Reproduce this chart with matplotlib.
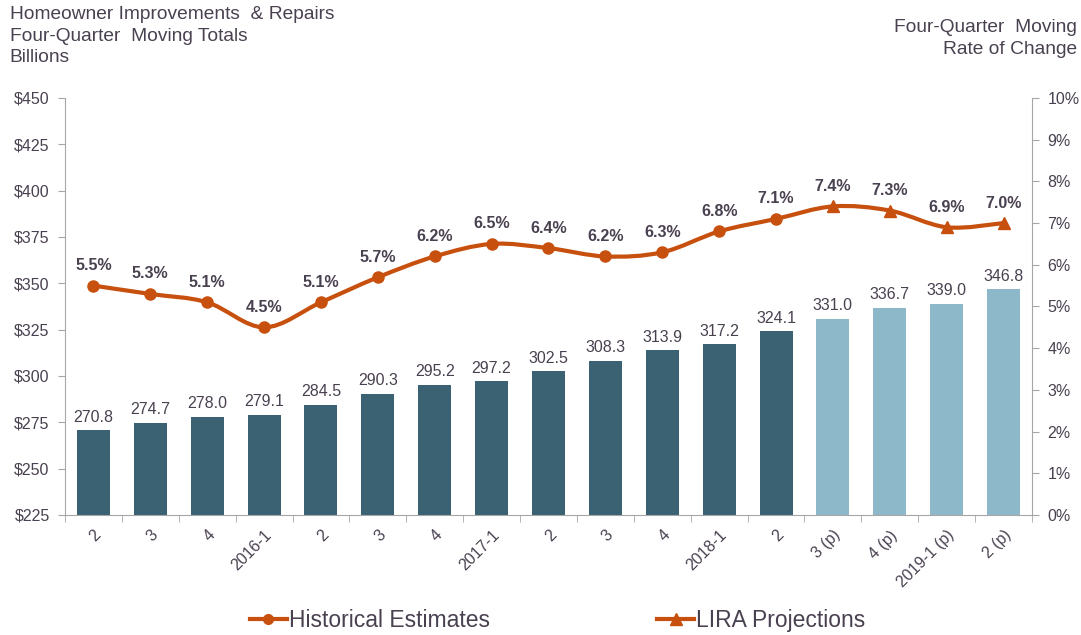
import numpy as np
import matplotlib.pyplot as plt
from matplotlib.path import Path
from matplotlib.patches import PathPatch
from matplotlib.lines import Line2D

plt.rcParams['font.family'] = ['Liberation Sans', 'DejaVu Sans']

# four-quarter moving totals, billions
quarters = ['2', '3', '4', '2016-1', '2', '3', '4', '2017-1', '2', '3', '4',
            '2018-1', '2', '3 (p)', '4 (p)', '2019-1 (p)', '2 (p)']
totals = [270.8, 274.7, 278.0, 279.1, 284.5, 290.3, 295.2, 297.2, 302.5,
          308.3, 313.9, 317.2, 324.1, 331.0, 336.7, 339.0, 346.8]
projected = [False] * 13 + [True] * 4

# four-quarter moving rate of change (%)
rates = [5.5, 5.3, 5.1, 4.5, 5.1, 5.7, 6.2, 6.5, 6.4, 6.2, 6.3, 6.8, 7.1,
         7.4, 7.3, 6.9, 7.0]

dark = '#3a6273'
light = '#8db8c9'
orange = '#c8500e'
txt = '#4a4150'
spine_c = '#a6a6a6'

fig = plt.figure(figsize=(10.81, 6.35), dpi=100)
ax = fig.add_axes([0.0601, 0.189, 0.8946, 0.6567])

x = np.arange(len(totals))
cols = [light if p else dark for p in projected]
bars = ax.bar(x, totals, width=0.58, color=cols, zorder=2)
ax.bar_label(bars, labels=[f'{v:.1f}' for v in totals], padding=4,
             fontsize=11.5, color=txt)

ax.set_xlim(-0.5, len(totals) - 0.5)
ax.set_ylim(225, 450)
ax.set_yticks(np.arange(225, 451, 25))
ax.set_yticklabels([f'${v}' for v in range(225, 451, 25)])
ax.set_xticks(x)
ax.set_xticklabels(quarters, rotation=45, ha='right', rotation_mode='anchor')
ax.set_xticks(np.arange(-0.5, len(totals), 1), minor=True)
ax.tick_params(axis='x', which='major', length=0, pad=9, labelsize=11.5, colors=txt)
ax.tick_params(axis='x', which='minor', length=5, color=spine_c)
ax.tick_params(axis='y', length=5, color=spine_c, labelsize=11.5, colors=txt, pad=6)
for s in ['top', 'right']:
    ax.spines[s].set_visible(False)
for s in ['left', 'bottom']:
    ax.spines[s].set_color(spine_c)

# right axis for rate of change
ax2 = ax.twinx()
ax2.set_ylim(0, 10)
ax2.set_yticks(range(0, 11))
ax2.set_yticklabels([f'{v}%' for v in range(0, 11)])
ax2.tick_params(axis='y', length=5, color=spine_c, labelsize=11.5, colors=txt, pad=6)
for s in ['top', 'left', 'bottom']:
    ax2.spines[s].set_visible(False)
ax2.spines['right'].set_color(spine_c)

# smoothed line (cubic bezier through the points)
rx = np.arange(len(rates))
ry = np.array(rates)
pts = np.column_stack([rx, ry])
verts = [pts[0]]
codes = [Path.MOVETO]
for i in range(len(pts) - 1):
    p0 = pts[max(i - 1, 0)]
    p1 = pts[i]
    p2 = pts[i + 1]
    p3 = pts[min(i + 2, len(pts) - 1)]
    verts += [p1 + (p2 - p0) / 6, p2 - (p3 - p1) / 6, p2]
    codes += [Path.CURVE4] * 3
ax2.add_patch(PathPatch(Path(verts, codes), fill=False, edgecolor=orange,
                        lw=3, zorder=3, capstyle='round'))

hist = ~np.array(projected)
proj = np.array(projected)
ax2.plot(rx[hist], ry[hist], 'o', color=orange, ms=8, zorder=4)
ax2.plot(rx[proj], ry[proj], '^', color=orange, ms=9, zorder=4)
for xi, yi in zip(rx, ry):
    ax2.annotate(f'{yi:.1f}%', (xi, yi), xytext=(0, 9), textcoords='offset points',
                 ha='center', va='bottom', fontsize=11.5, fontweight='bold', color=txt)

fig.text(0.009, 0.99, 'Homeowner Improvements  & Repairs\nFour-Quarter  Moving Totals\nBillions',
         ha='left', va='top', fontsize=13.8, color=txt, linespacing=1.35)
fig.text(0.996, 0.97, 'Four-Quarter  Moving\nRate of Change',
         ha='right', va='top', fontsize=13.8, color=txt, linespacing=1.35)

handles = [Line2D([], [], color=orange, lw=3, marker='o', ms=7),
           Line2D([], [], color=orange, lw=3, marker='^', ms=8)]
fig.legend(handles, ['Historical Estimates', 'LIRA Projections'], loc='center',
           bbox_to_anchor=(0.516, 0.023), ncol=2, frameon=False, fontsize=16.5,
           handlelength=1.6, handletextpad=0.1, columnspacing=7.3,
           labelcolor=txt)

fig.savefig('out.png', dpi=100)
